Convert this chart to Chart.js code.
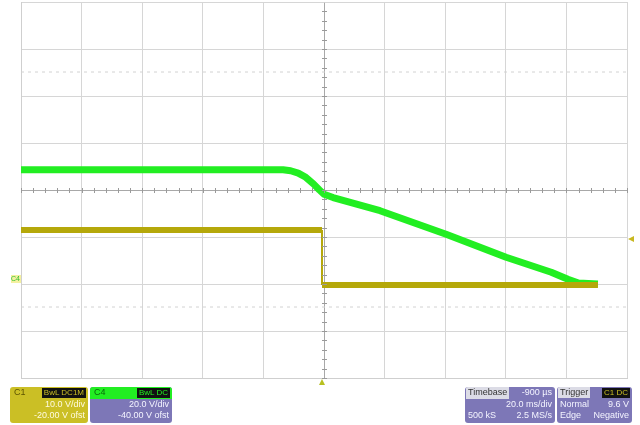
<!DOCTYPE html>
<html>
<head>
<meta charset="utf-8">
<script src="https://cdn.jsdelivr.net/npm/chart.js@4"></script>
<style>
body{margin:0;background:#fff;font-family:"Liberation Sans",Arial,sans-serif;}
#wrap{position:relative;width:640px;height:425px;}
.box{position:absolute;top:387px;height:36px;border-radius:3px;font-size:9px;line-height:11px;color:#f4f4ff;overflow:hidden;}
.hdr{height:12px;position:relative;}
.row{text-align:right;padding:0 3px;white-space:nowrap;}
.badge{position:absolute;top:1px;background:#111;padding:0 2px;line-height:10px;font-size:8px;}
.lr{display:flex;justify-content:space-between;padding:0 3px;}
</style>
</head>
<body>
<div id="wrap">
<canvas id="myChart" width="640" height="425"></canvas>

<div class="box" style="left:10px;width:78px;background:#cbbf25;color:#fffbe0;">
 <div class="hdr"><span style="position:absolute;left:4px;color:#5d5400;">C1</span><span class="badge" style="right:2px;color:#cbbf25;">BwL DC1M</span></div>
 <div class="row">10.0 V/div</div>
 <div class="row">-20.00 V ofst</div>
</div>
<div class="box" style="left:90px;width:82px;background:#7d77b7;">
 <div class="hdr" style="background:#22ee22;"><span style="position:absolute;left:4px;color:#0a6a0a;">C4</span><span class="badge" style="right:2px;color:#22ee22;">BwL DC</span></div>
 <div class="row">20.0 V/div</div>
 <div class="row">-40.00 V ofst</div>
</div>
<div class="box" style="left:465px;width:90px;background:#7d77b7;">
 <div class="hdr lr"><span style="background:#dcdce6;color:#333;padding:0 2px;margin-left:-2px;">Timebase</span><span>-900 µs</span></div>
 <div class="row">20.0 ms/div</div>
 <div class="lr"><span>500 kS</span><span>2.5 MS/s</span></div>
</div>
<div class="box" style="left:557px;width:75px;background:#7d77b7;">
 <div class="hdr"><span style="position:absolute;left:1px;background:#dcdce6;color:#333;padding:0 2px;">Trigger</span><span class="badge" style="right:2px;color:#cbbf25;">C1 DC</span></div>
 <div class="lr"><span>Normal</span><span>9.6 V</span></div>
 <div class="lr"><span>Edge</span><span>Negative</span></div>
</div>
</div>

<script>
// time in ms (20 ms/div), vertical in divisions
var xMin = -100, xMax = 100;
var yMin = -4, yMax = 4;

var c4Time = [-100, -13.5, -11.0, -8.5, -6.0, -3.5, -1.5, 0, 3, 18.5, 40.3, 60.1, 75.0, 80.5, 84.0, 90.4];
var c4Div  = [0.43, 0.43, 0.41, 0.36, 0.27, 0.13, 0.0, -0.09, -0.16, -0.44, -0.94, -1.43, -1.75, -1.90, -1.98, -2.0];

// C1: high level, falling edge, low level
var c1HighTime = [-100, -0.66];
var c1HighDiv  = [-0.85, -0.85];
var c1EdgeTime = [-0.66, -0.66];
var c1EdgeDiv  = [-0.85, -2.02];
var c1LowTime  = [-0.66, 90.4];
var c1LowDiv   = [-2.02, -2.02];

var cursorTime = [-100, 100];
var cursorA = [2.51, 2.51];
var cursorB = [-2.49, -2.49];

var trigLevel = -1.04;   // 9.6 V on C1
var trigPos = -0.66;
var c4Ground = -2.0;

function pts(xs, ys){
  var out = [];
  for (var i = 0; i < xs.length; i++) out.push({x: xs[i], y: ys[i]});
  return out;
}

var scopeDeco = {
  id: 'scopeDeco',
  afterDatasetsDraw: function(chart){
    var ctx = chart.ctx, xs = chart.scales.x, ys = chart.scales.y;
    var cx = xs.getPixelForValue(0), cy = ys.getPixelForValue(0);
    ctx.save();
    ctx.strokeStyle = '#9a9a9a';
    ctx.lineWidth = 1;
    // minor ticks on center cross
    ctx.beginPath();
    for (var t = xMin; t <= xMax; t += 4){
      var px = Math.round(xs.getPixelForValue(t)) + 0.5;
      ctx.moveTo(px, cy - 2); ctx.lineTo(px, cy + 3);
    }
    for (var d = yMin; d <= yMax; d += 0.2){
      var py = Math.round(ys.getPixelForValue(d)) + 0.5;
      ctx.moveTo(cx - 2, py); ctx.lineTo(cx + 3, py);
    }
    ctx.stroke();
    // trigger level arrow (right)
    var ty = ys.getPixelForValue(trigLevel);
    var rx = chart.chartArea.right;
    ctx.fillStyle = '#c8b820';
    ctx.beginPath();
    ctx.moveTo(rx + 1, ty); ctx.lineTo(rx + 7, ty - 3); ctx.lineTo(rx + 7, ty + 3); ctx.closePath();
    ctx.fill();
    // trigger position (bottom)
    var tx = xs.getPixelForValue(trigPos);
    var by = chart.chartArea.bottom;
    ctx.fillStyle = '#b8c020';
    ctx.beginPath();
    ctx.moveTo(tx, by + 1); ctx.lineTo(tx - 3, by + 7); ctx.lineTo(tx + 3, by + 7); ctx.closePath();
    ctx.fill();
    // C4 ground label
    var gy = ys.getPixelForValue(c4Ground);
    ctx.fillStyle = '#f4f0a0';
    ctx.fillRect(11, gy - 9, 10, 8);
    ctx.fillStyle = '#30c030';
    ctx.font = '7px "Liberation Sans"';
    ctx.textBaseline = 'bottom';
    ctx.fillText('C4', 11, gy - 1);
    ctx.restore();
  }
};

var c1Color = "#b5a80a";

new Chart("myChart", {
  type: "line",
  data: {
    datasets: [{
      data: pts(cursorTime, cursorA),
      borderColor: "#d2d2d2", borderWidth: 1, borderDash: [3, 4],
      pointRadius: 0, fill: false
    }, {
      data: pts(cursorTime, cursorB),
      borderColor: "#d2d2d2", borderWidth: 1, borderDash: [3, 4],
      pointRadius: 0, fill: false
    }, {
      label: "C1",
      data: pts(c1HighTime, c1HighDiv),
      borderColor: c1Color, borderWidth: 6,
      pointRadius: 0, fill: false
    }, {
      label: "C1 edge",
      data: pts(c1EdgeTime, c1EdgeDiv),
      borderColor: c1Color, borderWidth: 2,
      pointRadius: 0, fill: false
    }, {
      label: "C1 low",
      data: pts(c1LowTime, c1LowDiv),
      borderColor: c1Color, borderWidth: 6,
      pointRadius: 0, fill: false
    }, {
      label: "C4",
      data: pts(c4Time, c4Div),
      borderColor: "#22ee22", borderWidth: 7,
      pointRadius: 0, fill: false, tension: 0, borderJoinStyle: 'round'
    }]
  },
  options: {
    responsive: false,
    animation: false,
    layout: {padding: {left: 21, top: 2, right: 13, bottom: 47}},
    plugins: {legend: {display: false}, tooltip: {enabled: false}},
    scales: {
      x: {
        type: 'linear', min: xMin, max: xMax,
        ticks: {display: false, stepSize: 20},
        grid: {color: function(c){ return c.tick.value === 0 ? '#a8a8a8' : '#d6d6d6'; }, drawTicks: false},
        border: {color: '#cfcfcf'}
      },
      y: {
        min: yMin, max: yMax,
        ticks: {display: false, stepSize: 1},
        grid: {color: function(c){ return c.tick.value === 0 ? '#a8a8a8' : '#d6d6d6'; }, drawTicks: false},
        border: {color: '#cfcfcf'}
      }
    }
  },
  plugins: [scopeDeco]
});
</script>
</body>
</html>
